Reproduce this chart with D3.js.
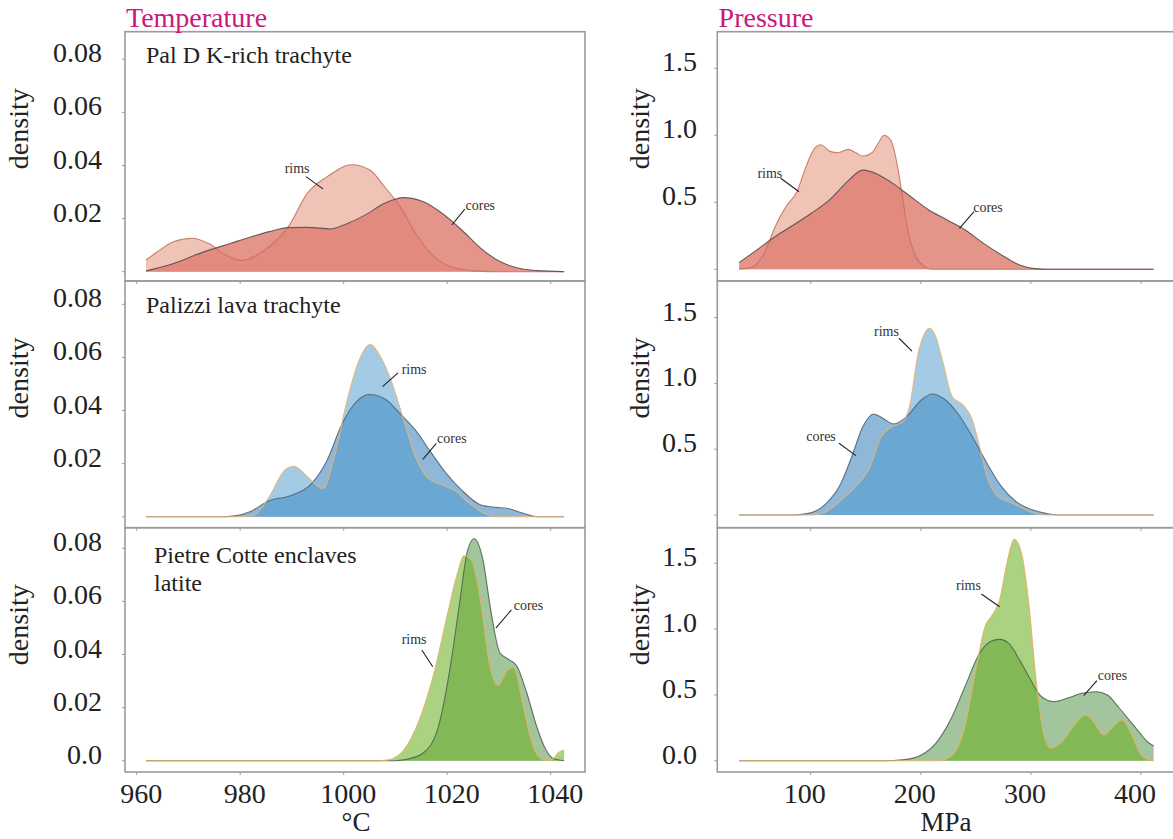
<!DOCTYPE html>
<html>
<head>
<meta charset="utf-8">
<script src="https://cdn.jsdelivr.net/npm/d3@7"></script>
<style>
  body { margin: 0; background: #fff; }
  svg { display: block; }
</style>
</head>
<body>
<svg id="chart" width="1173" height="839"></svg>
<script>
// ---- Density curves: [value, density] ----
// Temperature (°C)
const palDTempRims = [[961.8,0.0044],[964,0.0075],[967,0.0112],[970.7,0.0126],[974,0.0105],[977,0.0065],[980.4,0.0042],[983,0.006],[985.6,0.0094],[989.3,0.017],[993,0.0296],[996.8,0.0358],[1001.6,0.0403],[1005,0.0384],[1007.9,0.032],[1010.9,0.0245],[1013.9,0.0145],[1016.8,0.0069],[1019.8,0.0025],[1022.8,0.0009],[1026,0.0002],[1030,0],[1042.6,0]];
const palDTempCores = [[961.8,0.0003],[967,0.003],[972.2,0.0069],[978.2,0.0107],[981.9,0.013],[985.6,0.0151],[989.3,0.0166],[993,0.0167],[997.5,0.0161],[1000.5,0.018],[1004.2,0.0214],[1007.9,0.0258],[1011.6,0.0279],[1015.3,0.0264],[1019,0.022],[1022.8,0.0157],[1026.5,0.0088],[1030.2,0.0038],[1033.9,0.0013],[1037.6,0.0004],[1042.6,0]];
const palizziTempRims = [[961.8,0],[980,0],[982.6,0.0005],[985.6,0.0075],[988.6,0.0175],[990.4,0.019],[993,0.015],[996,0.0106],[998.2,0.0225],[1000.5,0.0425],[1002.7,0.0575],[1005.1,0.0648],[1007.2,0.06],[1009.4,0.05],[1011.6,0.0363],[1013.9,0.0225],[1016.1,0.015],[1019.1,0.0119],[1021.3,0.01],[1024.3,0.005],[1027.2,0.0013],[1029.5,0],[1042.6,0]];
const palizziTempCores = [[961.8,0],[977,0],[979,0.0003],[981.9,0.0019],[985.6,0.006],[990,0.0081],[993.8,0.0125],[996.8,0.0213],[999.7,0.035],[1002.7,0.0438],[1004.9,0.046],[1007.9,0.0444],[1010.9,0.0388],[1013.9,0.0325],[1016.8,0.0244],[1019.8,0.0163],[1022.8,0.01],[1026.5,0.0044],[1029.4,0.0035],[1031.7,0.0031],[1034.7,0.0013],[1037.5,0],[1042.6,0]];
const pietreTempRims = [[961.8,0],[1007,0],[1008.7,0.0003],[1011.6,0.004],[1014.6,0.0153],[1017.6,0.0342],[1019.8,0.053],[1022,0.0707],[1023.2,0.0772],[1024.6,0.0757],[1026.5,0.0594],[1028,0.038],[1029.8,0.0283],[1031.7,0.0342],[1032.8,0.0351],[1034.7,0.0204],[1036.2,0.0078],[1038,0.0009],[1039.3,0],[1040.5,0.0008],[1041.5,0.003],[1042.6,0.004]];
const pietreTempCores = [[961.8,0],[1010,0],[1011.6,0.0003],[1015.3,0.0028],[1018.3,0.0128],[1020.5,0.0342],[1022.4,0.0594],[1023.9,0.0789],[1025.2,0.0836],[1026.9,0.0757],[1028.4,0.0569],[1030.2,0.0405],[1032,0.038],[1033.5,0.0355],[1035.4,0.0254],[1037.3,0.0128],[1039.1,0.004],[1040.5,0.0008],[1042.6,0]];

// Pressure (MPa)
const palDPresRims = [[35,0.003],[40,0.005],[47.9,0.02],[57.8,0.12],[67.8,0.32],[77.7,0.47],[87.6,0.58],[95.9,0.77],[104.2,0.91],[109.2,0.93],[117.4,0.88],[125,0.87],[134,0.895],[141,0.87],[147.3,0.845],[155.6,0.87],[162,0.95],[166.6,1.0],[170.5,0.985],[173.8,0.945],[178.8,0.77],[183.7,0.52],[188.7,0.27],[195.4,0.095],[203.6,0.02],[210,0],[411.5,0]];
const palDPresCores = [[35,0.05],[51.2,0.145],[67.8,0.245],[84.3,0.33],[100.9,0.42],[117.4,0.52],[134,0.66],[147.3,0.74],[160.6,0.71],[173.8,0.645],[190.4,0.545],[207,0.445],[223.5,0.37],[240.1,0.295],[256.7,0.195],[273.3,0.107],[289.8,0.032],[303.1,0.005],[315,0],[411.5,0]];
const palizziPresRims = [[35,0],[100,0],[104.2,0.003],[114.2,0.025],[127.4,0.114],[140.7,0.215],[153.9,0.367],[163.9,0.595],[173.8,0.671],[183.8,0.709],[190.4,0.849],[197,1.203],[203.6,1.381],[207.9,1.419],[213.6,1.355],[220.3,1.153],[228.5,0.899],[238.4,0.836],[246.8,0.722],[253.4,0.519],[260.1,0.291],[270,0.139],[279.9,0.101],[289.8,0.063],[303.1,0.013],[312,0],[411.5,0]];
const palizziPresCores = [[35,0],[85,0],[87.6,0.002],[100.9,0.018],[114.2,0.089],[127.4,0.24],[137.3,0.443],[147.3,0.67],[157.2,0.768],[165.5,0.735],[175.5,0.692],[187.1,0.747],[200.4,0.874],[210.3,0.92],[220.3,0.887],[233.5,0.773],[246.8,0.595],[260.1,0.393],[273.3,0.215],[286.6,0.101],[299.9,0.043],[316.4,0.008],[325,0],[411.5,0]];
const pietrePresRims = [[35,0],[218,0],[220.2,0.005],[230.2,0.056],[240.1,0.258],[250,0.689],[258.3,1.018],[264.9,1.107],[271.6,1.221],[278.2,1.5],[284.8,1.682],[291.5,1.576],[298.1,1.196],[304.7,0.613],[311.4,0.208],[318,0.094],[328,0.144],[339.6,0.271],[349.5,0.347],[357.8,0.284],[366.1,0.195],[374.4,0.258],[382.7,0.309],[390.9,0.208],[399.2,0.056],[407.5,0.005],[411.5,0]];
const pietrePresCores = [[35,0],[170,0],[173.8,0.002],[187.1,0.01],[200.4,0.043],[213.6,0.132],[226.9,0.309],[240.1,0.562],[253.4,0.816],[263.3,0.905],[271.6,0.922],[279.9,0.892],[289.8,0.765],[299.8,0.613],[309.7,0.486],[321.3,0.448],[332.9,0.474],[346.2,0.512],[359.4,0.524],[369.4,0.499],[379.3,0.41],[389.3,0.309],[399.2,0.208],[405.8,0.144],[411.5,0.111]];

// ---- Labels and ticks ----
const sampleNames = [["Pal D K-rich trachyte"], ["Palizzi lava trachyte"], ["Pietre Cotte enclaves", "latite"]];
const columnTitles = ["Temperature", "Pressure"];
const unitLabels = ["°C", "MPa"];
const tempTicks = [960, 980, 1000, 1020, 1040];
const presTicks = [100, 200, 300, 400];
const tempDensityTicks = [0, 0.02, 0.04, 0.06, 0.08];
const presDensityTicks = [0, 0.5, 1.0, 1.5];

// ---- Styles per sample row ----
const palettes = [
  { rimsFill: "#f0c3b7", rimsStroke: "#c7715f", coresFill: "rgba(224,128,115,0.84)", coresStroke: "#5a4d4b", rimsOnTop: false },
  { rimsFill: "rgba(72,152,206,0.5)", rimsStroke: "#e6b574", coresFill: "#8fb7d8", coresStroke: "#4f6679", rimsOnTop: true },
  { rimsFill: "rgba(105,175,30,0.56)", rimsStroke: "#e3b265", coresFill: "#a2c59d", coresStroke: "#4f6650", rimsOnTop: true }
];

const serif = "'Liberation Serif', 'Times New Roman', serif";
const svg = d3.select("#chart");

// Panel geometry
const rowEdges = [31.7, 281, 527.7, 772];
const leftBox = { x0: 125, x1: 585 };
const rightBox = { x0: 717.3, x1: 1185 };
const leftBase = [271.7, 516.7, 760.7];
const rightBase = [269.3, 515, 760.7];
const leftPxPerUnit = 2655;
const rightPxPerUnit = [134, 131.6, 131.6];

const xTemp = d3.scaleLinear().domain([960, 1040]).range([136.7, 550.7]);
const xPres = d3.scaleLinear().domain([100, 400]).range([810.7, 1141]);

const tempSeries = [
  [palDTempRims, palDTempCores],
  [palizziTempRims, palizziTempCores],
  [pietreTempRims, pietreTempCores]
];
const presSeries = [
  [palDPresRims, palDPresCores],
  [palizziPresRims, palizziPresCores],
  [pietrePresRims, pietrePresCores]
];

// Annotation anchors in data units: label centre, then leader start/end
const tempNotes = [
  [{ t: "rims", x: 991, y: 0.0387, lx: [992.7, 996], ly: [0.0358, 0.0312] },
   { t: "cores", x: 1026.4, y: 0.0249, lx: [1023.4, 1020.9], ly: [0.0236, 0.0176] }],
  [{ t: "rims", x: 1013.6, y: 0.0553, lx: [1010.5, 1007.5], ly: [0.0542, 0.049] },
   { t: "cores", x: 1020.9, y: 0.0295, lx: [1017.9, 1015.3], ly: [0.0276, 0.0216] }],
  [{ t: "rims", x: 1013.6, y: 0.0455, lx: [1015.1, 1017.2], ly: [0.0417, 0.0354] },
   { t: "cores", x: 1035.7, y: 0.0586, lx: [1032.4, 1029.4], ly: [0.0568, 0.0499] }]
];
const presNotes = [
  [{ t: "rims", x: 62.9, y: 0.716, lx: [72.8, 89.4], ly: [0.679, 0.579] },
   { t: "cores", x: 261, y: 0.46, lx: [248.3, 235.1], ly: [0.43, 0.306] }],
  [{ t: "rims", x: 168.8, y: 1.393, lx: [180.2, 192], ly: [1.343, 1.246] },
   { t: "cores", x: 109.4, y: 0.6, lx: [125.7, 141.1], ly: [0.545, 0.451] }],
  [{ t: "rims", x: 243.3, y: 1.33, lx: [255, 271.6], ly: [1.267, 1.17] },
   { t: "cores", x: 374.1, y: 0.646, lx: [360, 347.9], ly: [0.608, 0.494] }]
];

function drawPanel(opts) {
  const { box, row, x, y, series, pal, ticks, labelZero, tickLabelX, fmt, notes, name, xTicks, densityX } = opts;
  const top = rowEdges[row], bottom = rowEdges[row + 1];
  const g = svg.append("g");

  // density curves
  const area = d3.area().x(d => x(d[0])).y0(y(0)).y1(d => y(d[1])).curve(d3.curveMonotoneX);
  const line = d3.line().x(d => x(d[0])).y(d => y(d[1])).curve(d3.curveMonotoneX);
  const [rims, cores] = series;
  const order = pal.rimsOnTop ? [["cores", cores], ["rims", rims]] : [["rims", rims], ["cores", cores]];
  order.forEach(([k, d]) => {
    g.append("path").attr("d", area(d)).attr("fill", pal[k + "Fill"]).attr("stroke", "none");
  });
  order.forEach(([k, d]) => {
    g.append("path").attr("d", line(d)).attr("fill", "none")
      .attr("stroke", pal[k + "Stroke"]).attr("stroke-width", 1.1).attr("stroke-opacity", 0.9);
  });

  // annotations
  notes.forEach(n => {
    g.append("line")
      .attr("x1", x(n.lx[0])).attr("y1", y(n.ly[0]))
      .attr("x2", x(n.lx[1])).attr("y2", y(n.ly[1]))
      .attr("stroke", "#222").attr("stroke-width", 1.1);
    g.append("text").attr("x", x(n.x)).attr("y", y(n.y) + 4.5)
      .attr("text-anchor", "middle").attr("font-family", serif)
      .attr("font-size", 14).attr("fill", "#333").text(n.t);
  });

  // frame
  g.append("rect").attr("x", box.x0).attr("y", top)
    .attr("width", box.x1 - box.x0).attr("height", bottom - top)
    .attr("fill", "none").attr("stroke", "#9b9b9b").attr("stroke-width", 1.6);

  // y ticks and labels
  ticks.forEach(v => {
    g.append("line").attr("x1", box.x0 - 3).attr("x2", box.x0)
      .attr("y1", y(v)).attr("y2", y(v)).attr("stroke", "#999").attr("stroke-width", 1);
    if (v !== 0 || labelZero) {
      g.append("text").attr("x", tickLabelX).attr("y", y(v) + 3)
        .attr("text-anchor", "end").attr("font-family", serif)
        .attr("font-size", 28).attr("fill", "#222").text(fmt(v));
    }
  });

  // x ticks along the bottom edge
  xTicks.forEach(v => {
    g.append("line").attr("x1", x(v)).attr("x2", x(v))
      .attr("y1", bottom).attr("y2", bottom + 3)
      .attr("stroke", "#999").attr("stroke-width", 1);
  });

  // axis title
  g.append("text")
    .attr("transform", `translate(${densityX},${top + 97}) rotate(-90)`)
    .attr("text-anchor", "middle").attr("font-family", serif)
    .attr("font-size", 28).attr("fill", "#222").text("density");

  // sample name
  if (name) {
    const nm = g.append("text").attr("font-family", serif).attr("font-size", 24).attr("fill", "#222");
    name.lines.forEach((s, i) => {
      nm.append("tspan").attr("x", name.x).attr("y", name.y + i * 28).text(s);
    });
  }
}

const nameLayout = [
  { x: 146, y: 63 },
  { x: 146, y: 313 },
  { x: 154, y: 563 }
];

for (let r = 0; r < 3; r++) {
  const yL = d3.scaleLinear().domain([0, 1]).range([leftBase[r], leftBase[r] - leftPxPerUnit]);
  drawPanel({
    box: leftBox, row: r, x: xTemp, y: yL, series: tempSeries[r], pal: palettes[r],
    ticks: tempDensityTicks, labelZero: r === 2, tickLabelX: 102,
    fmt: v => v === 0 ? "0.0" : d3.format(".2f")(v),
    notes: tempNotes[r], xTicks: tempTicks, densityX: 28.4,
    name: { lines: sampleNames[r], x: nameLayout[r].x, y: nameLayout[r].y }
  });
  const yR = d3.scaleLinear().domain([0, 1]).range([rightBase[r], rightBase[r] - rightPxPerUnit[r]]);
  drawPanel({
    box: rightBox, row: r, x: xPres, y: yR, series: presSeries[r], pal: palettes[r],
    ticks: presDensityTicks, labelZero: r === 2, tickLabelX: 697,
    fmt: d3.format(".1f"),
    notes: presNotes[r], xTicks: presTicks, densityX: 648.5, name: null
  });
}

// bottom axes (labels sit slightly off their tick marks)
const axisLabelY = 803;
tempTicks.forEach(v => {
  svg.append("text").attr("x", xTemp(v) + 4.5).attr("y", axisLabelY)
    .attr("text-anchor", "middle").attr("font-family", serif)
    .attr("font-size", 28).attr("fill", "#222").text(v);
});
presTicks.forEach(v => {
  svg.append("text").attr("x", xPres(v) - 6).attr("y", axisLabelY)
    .attr("text-anchor", "middle").attr("font-family", serif)
    .attr("font-size", 28).attr("fill", "#222").text(v);
});
svg.append("text").attr("x", 356).attr("y", 831).attr("text-anchor", "middle")
  .attr("font-family", serif).attr("font-size", 27).attr("fill", "#222").text(unitLabels[0]);
svg.append("text").attr("x", 946).attr("y", 831).attr("text-anchor", "middle")
  .attr("font-family", serif).attr("font-size", 27).attr("fill", "#222").text(unitLabels[1]);

// column titles
svg.append("text").attr("x", 126).attr("y", 27)
  .attr("font-family", serif).attr("font-size", 28).attr("fill", "#c8197b").text(columnTitles[0]);
svg.append("text").attr("x", 718.6).attr("y", 27)
  .attr("font-family", serif).attr("font-size", 28).attr("fill", "#c8197b").text(columnTitles[1]);
</script>
</body>
</html>
